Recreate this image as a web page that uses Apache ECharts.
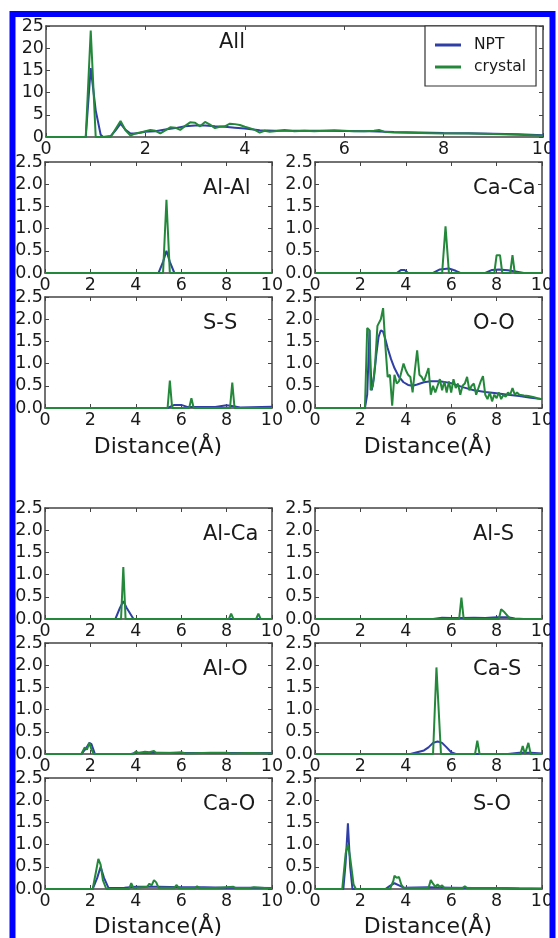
<!DOCTYPE html>
<html>
<head>
<meta charset="utf-8">
<script src="https://cdn.jsdelivr.net/npm/echarts@6/dist/echarts.min.js"></script>
<style>
html,body{margin:0;padding:0;background:#fff;}
#chart{width:558px;height:938px;}
</style>
</head>
<body>
<div id="chart"></div>
<script>
// ---------- data (x in Å, g(r)) ----------
const panelNames = ['All','Al-Al','Ca-Ca','S-S','O-O','Al-Ca','Al-S','Al-O','Ca-S','Ca-O','S-O'];
const seriesNames = ['NPT','crystal'];

const allNPT = [[0,0],[0.8,0],[0.9,15.5],[1.0,6],[1.1,0.5],[1.15,0],[1.3,0.2],[1.4,1.5],[1.5,3.0],[1.6,1.6],[1.7,0.8],[1.8,0.8],[2.0,1.2],[2.2,1.3],[2.4,1.7],[2.6,2.0],[2.8,2.4],[3.0,2.6],[3.2,2.6],[3.4,2.4],[3.6,2.3],[3.8,2.1],[4.0,1.9],[4.3,1.5],[4.6,1.4],[5.0,1.4],[5.5,1.4],[6.0,1.35],[6.5,1.3],[7.0,1.1],[7.5,1.0],[8.0,0.9],[8.5,0.85],[9.0,0.75],[9.5,0.6],[10,0.4]];
const allCrystal = [[0,0],[0.8,0],[0.9,24],[1.0,0],[1.3,0],[1.4,1.8],[1.5,3.6],[1.6,1.5],[1.7,0.3],[1.8,0.8],[1.9,1.0],[2.0,1.3],[2.1,1.6],[2.2,1.4],[2.3,0.8],[2.4,1.5],[2.5,2.2],[2.6,2.1],[2.7,1.6],[2.8,2.5],[2.9,3.3],[3.0,3.2],[3.1,2.4],[3.2,3.4],[3.3,2.8],[3.4,2.0],[3.5,2.3],[3.6,2.4],[3.7,3.0],[3.8,2.9],[3.9,2.7],[4.0,2.3],[4.1,2.0],[4.2,1.6],[4.3,1.0],[4.4,1.4],[4.5,1.2],[4.6,1.3],[4.8,1.6],[5.0,1.3],[5.2,1.4],[5.4,1.3],[5.6,1.4],[5.8,1.5],[6.0,1.4],[6.2,1.3],[6.4,1.3],[6.6,1.4],[6.7,1.6],[6.8,1.2],[7.0,1.0],[7.5,0.9],[8.0,0.8],[8.5,0.8],[9.0,0.7],[9.5,0.5],[10,0.3]];

const alalNPT = [[0,0],[5.0,0],[5.2,0.25],[5.35,0.5],[5.5,0.25],[5.7,0],[10,0]];
const alalCrystal = [[0,0],[5.2,0],[5.35,1.65],[5.5,0],[10,0]];

const cacaNPT = [[0,0],[3.6,0],[3.8,0.07],[3.95,0.07],[4.1,0],[5.2,0],[5.5,0.08],[5.9,0.1],[6.2,0.05],[6.4,0],[7.5,0],[7.8,0.07],[8.1,0.08],[8.5,0.06],[8.9,0.03],[9.2,0],[10,0]];
const cacaCrystal = [[0,0],[5.6,0],[5.75,1.05],[5.9,0],[7.9,0],[8.0,0.4],[8.15,0.4],[8.25,0],[8.6,0],[8.7,0.4],[8.8,0],[10,0]];

const ssNPT = [[0,0],[5.4,0],[5.7,0.07],[6.0,0.07],[6.3,0.02],[7.5,0.02],[8.0,0.06],[8.3,0.04],[8.6,0.01],[10,0.03]];
const ssCrystal = [[0,0],[5.4,0],[5.5,0.62],[5.6,0],[6.35,0],[6.45,0.22],[6.55,0],[8.15,0],[8.25,0.57],[8.35,0],[10,0]];

const ooNPT = [[0,0],[2.2,0],[2.3,0.3],[2.4,1.75],[2.45,0.9],[2.5,0.4],[2.6,0.7],[2.7,1.2],[2.8,1.6],[2.9,1.75],[3.0,1.72],[3.1,1.55],[3.2,1.35],[3.35,1.1],[3.5,0.9],[3.7,0.7],[3.9,0.58],[4.1,0.52],[4.3,0.5],[4.5,0.53],[4.8,0.58],[5.1,0.6],[5.5,0.6],[6.0,0.56],[6.5,0.47],[7.0,0.4],[7.5,0.36],[8.0,0.33],[8.5,0.3],[9.0,0.27],[9.5,0.23],[10,0.2]];
const ooCrystal = [[0,0],[2.2,0],[2.3,1.8],[2.4,1.75],[2.45,0.4],[2.55,0.5],[2.65,1.0],[2.75,1.85],[2.9,2.0],[3.0,2.25],[3.1,1.4],[3.2,0.7],[3.3,0.75],[3.4,0.05],[3.5,0.75],[3.6,0.55],[3.7,0.6],[3.8,0.8],[3.9,1.0],[4.0,0.85],[4.1,0.75],[4.2,0.7],[4.3,0.35],[4.4,0.85],[4.5,1.3],[4.6,0.75],[4.7,0.7],[4.8,0.6],[4.9,0.75],[5.0,0.9],[5.1,0.3],[5.2,0.5],[5.3,0.35],[5.4,0.5],[5.5,0.65],[5.6,0.4],[5.7,0.6],[5.8,0.35],[5.9,0.6],[6.0,0.35],[6.1,0.65],[6.2,0.45],[6.3,0.55],[6.4,0.3],[6.5,0.5],[6.6,0.55],[6.7,0.7],[6.8,0.4],[6.9,0.5],[7.0,0.55],[7.1,0.3],[7.2,0.45],[7.3,0.6],[7.4,0.72],[7.5,0.3],[7.6,0.2],[7.7,0.35],[7.8,0.15],[7.9,0.3],[8.0,0.22],[8.1,0.35],[8.2,0.2],[8.3,0.3],[8.4,0.25],[8.5,0.35],[8.6,0.3],[8.7,0.45],[8.8,0.3],[8.9,0.35],[9.0,0.3],[9.2,0.28],[9.4,0.27],[9.6,0.25],[9.8,0.22],[10,0.2]];

const alcaNPT = [[0,0],[3.1,0],[3.3,0.25],[3.45,0.4],[3.6,0.25],[3.9,0],[10,0]];
const alcaCrystal = [[0,0],[3.35,0],[3.45,1.17],[3.55,0],[8.1,0],[8.2,0.12],[8.3,0],[9.3,0],[9.4,0.12],[9.5,0],[10,0]];

const alsNPT = [[0,0],[5.2,0],[5.6,0.03],[6.0,0.02],[6.5,0.02],[7.0,0.03],[7.5,0.02],[8.0,0.04],[8.5,0.04],[8.8,0.01],[9.2,0],[10,0]];
const alsCrystal = [[0,0],[6.35,0],[6.45,0.48],[6.55,0],[8.1,0],[8.2,0.22],[8.35,0.15],[8.6,0],[10,0]];

const aloNPT = [[0,0],[1.6,0],[1.8,0.12],[1.95,0.25],[2.05,0.22],[2.2,0],[3.8,0],[4.0,0.03],[5.0,0.03],[6.0,0.02],[7.0,0.02],[8.0,0.02],[9.0,0.02],[10,0.02]];
const aloCrystal = [[0,0],[1.6,0],[1.75,0.15],[1.85,0.1],[1.95,0.25],[2.05,0.1],[2.15,0],[3.9,0],[4.0,0.06],[4.1,0.02],[4.4,0.05],[4.6,0.04],[4.8,0.07],[4.9,0.02],[5.5,0.02],[6.0,0.04],[6.2,0.01],[7.3,0.03],[8.0,0.03],[8.2,0.01],[9.0,0.02],[10,0.01]];

const casNPT = [[0,0],[4.2,0],[4.5,0.04],[4.8,0.08],[5.0,0.15],[5.2,0.25],[5.4,0.28],[5.6,0.25],[5.8,0.15],[6.0,0.04],[6.2,0],[8.5,0],[9.0,0.03],[9.5,0.03],[10,0.01]];
const casCrystal = [[0,0],[5.2,0],[5.35,1.95],[5.55,0],[7.05,0],[7.15,0.3],[7.25,0],[9.05,0],[9.15,0.18],[9.25,0],[9.3,0],[9.4,0.25],[9.5,0],[10,0]];

const caoNPT = [[0,0],[2.1,0],[2.3,0.25],[2.45,0.5],[2.6,0.25],[2.8,0.02],[3.5,0.03],[4.0,0.05],[5.0,0.05],[6.0,0.04],[7.0,0.04],[8.0,0.03],[9.0,0.03],[10,0.02]];
const caoCrystal = [[0,0],[2.1,0],[2.25,0.4],[2.35,0.68],[2.45,0.55],[2.55,0.2],[2.7,0],[3.7,0],[3.8,0.13],[3.9,0.02],[4.5,0.05],[4.6,0.12],[4.7,0.08],[4.8,0.2],[4.9,0.15],[5.0,0.03],[5.7,0.03],[5.8,0.09],[5.9,0.02],[6.6,0.02],[6.7,0.06],[6.8,0.02],[7.5,0.02],[8.3,0.05],[8.4,0.02],[9.0,0.02],[9.2,0.04],[10,0.01]];

const soNPT = [[0,0],[1.25,0],[1.35,0.6],[1.45,1.48],[1.55,0.5],[1.65,0],[3.1,0],[3.3,0.07],[3.5,0.13],[3.7,0.08],[3.9,0.03],[5.0,0.04],[6.0,0.03],[7.0,0.02],[8.0,0.02],[9,0.01],[10,0.01]];
const soCrystal = [[0,0],[1.2,0],[1.35,0.8],[1.45,1.0],[1.55,0.7],[1.7,0.1],[1.8,0],[3.3,0],[3.45,0.18],[3.5,0.3],[3.6,0.25],[3.7,0.27],[3.8,0.1],[3.9,0.03],[5.0,0.02],[5.1,0.2],[5.2,0.12],[5.3,0.05],[5.4,0.1],[5.5,0.05],[5.6,0.08],[5.7,0.02],[6.5,0.02],[6.6,0.06],[6.7,0.02],[7.5,0.02],[8.2,0.02],[9,0.01],[10,0]];

const nptData = [allNPT, alalNPT, cacaNPT, ssNPT, ooNPT, alcaNPT, alsNPT, aloNPT, casNPT, caoNPT, soNPT];
const crystalData = [allCrystal, alalCrystal, cacaCrystal, ssCrystal, ooCrystal, alcaCrystal, alsCrystal, aloCrystal, casCrystal, caoCrystal, soCrystal];

const xMin = 0, xMax = 10, xStep = 2;
const yMaxAll = 25, yStepAll = 5;
const yMaxPair = 2.5, yStepPair = 0.5;
const xAxisTitle = 'Distance(Å)';

// ---------- layout ----------
const FONT = 'DejaVu Sans';
const COL_NPT = '#2f3fa6';
const COL_CRY = '#24883a';
const AX = '#444';
const TXT = '#1a1a1a';
const colLeft = [45, 315];
const rowTop = [162, 297, 508, 643, 778];
const W = 227, H = 111;
const grids = [{left: 46, top: 26, width: 497, height: 111}];
for (let r = 0; r < 5; r++) for (let c = 0; c < 2; c++) grids.push({left: colLeft[c], top: rowTop[r], width: W, height: H});

const xAxes = [], yAxes = [], series = [], graphics = [];
grids.forEach((g, i) => {
  const isAll = i === 0;
  const common = {gridIndex: i, type: 'value', splitLine: {show: false},
    axisLine: {show: true, onZero: false, lineStyle: {color: AX, width: 1.5}},
    axisTick: {show: true, inside: true, length: 4, lineStyle: {color: AX, width: 1}}};
  xAxes.push(Object.assign({}, common, {position: 'bottom', min: xMin, max: xMax, interval: xStep,
    axisLabel: {show: true, fontFamily: FONT, fontSize: 17.5, color: TXT, margin: 3, showMinLabel: true, showMaxLabel: true}}));
  xAxes.push(Object.assign({}, common, {position: 'top', min: xMin, max: xMax, interval: xStep, axisLabel: {show: false}}));
  const ymax = isAll ? yMaxAll : yMaxPair, ystep = isAll ? yStepAll : yStepPair;
  yAxes.push(Object.assign({}, common, {position: 'left', min: 0, max: ymax, interval: ystep,
    axisLabel: {show: true, fontFamily: FONT, fontSize: 17.5, color: TXT, margin: 2, showMinLabel: true, showMaxLabel: true,
      formatter: v => isAll ? String(v) : v.toFixed(1)}}));
  yAxes.push(Object.assign({}, common, {position: 'right', min: 0, max: ymax, interval: ystep, axisLabel: {show: false}}));
  [nptData[i], crystalData[i]].forEach((d, k) => {
    series.push({name: seriesNames[k], type: 'line', xAxisIndex: 2 * i, yAxisIndex: 2 * i, data: d,
      showSymbol: false, symbol: 'none', lineStyle: {width: 2, color: k === 0 ? COL_NPT : COL_CRY},
      itemStyle: {color: k === 0 ? COL_NPT : COL_CRY}, z: 2 + k});
  });
  // panel title
  graphics.push({type: 'text', x: isAll ? 219 : g.left + 158, y: isAll ? 43 : g.top + 27,
    style: {text: panelNames[i], fontFamily: FONT, fontSize: 21, fill: TXT, align: 'left', verticalAlign: 'middle'}, z: 10});
});
// x axis titles under rows 2 and 5
[[158, 447], [428, 447], [158, 927], [428, 927]].forEach(p => {
  graphics.push({type: 'text', x: p[0], y: p[1],
    style: {text: xAxisTitle, fontFamily: FONT, fontSize: 22, fill: TXT, align: 'center', verticalAlign: 'middle'}});
});
// blue frame
graphics.push({type: 'rect', shape: {x: 12.5, y: 14, width: 540, height: 950},
  style: {fill: 'none', stroke: '#0000ff', lineWidth: 6}, z: 20, silent: true});

const chart = echarts.init(document.getElementById('chart'), null, {renderer: 'canvas'});
chart.setOption({
  animation: false,
  backgroundColor: '#fff',
  grid: grids,
  xAxis: xAxes,
  yAxis: yAxes,
  series: series,
  legend: {data: seriesNames, orient: 'vertical', left: 425, top: 26, itemGap: 6, padding: [11, 10, 11, 10],
    borderColor: '#333', borderWidth: 1.2, borderRadius: 0, backgroundColor: '#fff',
    itemWidth: 26, itemHeight: 3, icon: 'rect',
    textStyle: {fontFamily: FONT, fontSize: 15.5, color: TXT, padding: [0, 0, 0, 8]}},
  graphic: graphics
});
</script>
</body>
</html>
